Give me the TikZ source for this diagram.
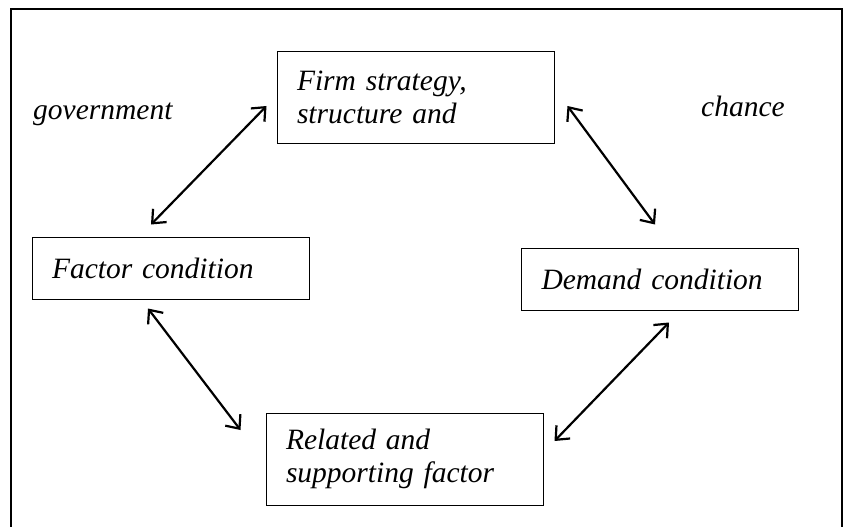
\documentclass[tikz,border=0pt]{standalone}
\usepackage{fontspec}
\setmainfont{Liberation Serif}
\usetikzlibrary{arrows.meta}

\begin{document}
\begin{tikzpicture}[
    x=1pt, y=-1pt,
    every node/.style={font=\fontsize{29.5}{33}\selectfont\itshape},
    label/.style={inner sep=0pt, anchor=base west},
    factor/.style={
        draw,
        line width=1pt,
        align=left,
        inner xsep=20pt,
        inner ysep=0pt,
        text width=237pt,
        minimum height=62pt
    },
    arr/.style={{Straight Barb[length=11pt,width=19pt]}-{Straight Barb[length=11pt,width=19pt]}, line width=2.2pt}
]

    \useasboundingbox (0,0) rectangle (844,527);

    % Outer frame
    \draw[line width=2pt] (11,540) -- (11,9) -- (842,9) -- (842,540);

    % Side labels
    \node[label] (gov) at (33,119) {government};
    \node[label] (chance) at (701,117) {chance};

    % Diamond of conditions
    \node[
        factor,
        minimum height=91pt
    ] (firm) at (415.5,97.5) {Firm strategy,\\ structure and};

    \node[factor] (fac) at (170.5,268) {Factor condition};

    \node[factor] (dem) at (660,279) {Demand condition};

    \node[
        factor,
        minimum height=92pt
    ] (rel) at (404.5,459) {Related and\\ supporting factor};

    % Connectors
    \draw[arr] ([shift={(-19.5,-12)}]fac.north) -- ([shift={(-10,8.5)}]firm.west);
    \draw[arr] ([shift={(13,8.5)}]firm.east) -- ([shift={(-5,-23)}]dem.north);
    \draw[arr] ([shift={(-22.5,9)}]fac.south) -- ([shift={(-25,-29)}]rel.west);
    \draw[arr] ([shift={(11,-18)}]rel.east) -- ([shift={(9,12)}]dem.south);

\end{tikzpicture}
\end{document}
